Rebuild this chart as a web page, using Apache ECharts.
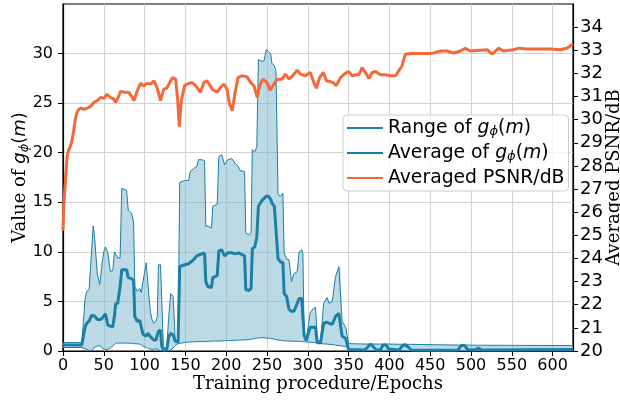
<!DOCTYPE html>
<html>
<head>
<meta charset="utf-8">
<script src="https://cdn.jsdelivr.net/npm/echarts@6/dist/echarts.min.js"></script>
<style>
  html, body { margin: 0; padding: 0; background: #fff; }
  #chart { width: 620px; height: 402px; }
</style>
</head>
<body>
<div id="chart"></div>
<script>
// g_phi(m) statistics, sampled at the same epochs
const gEpoch = [
  0, 23, 25, 27, 29, 32, 35, 37, 39, 42,
  45, 48, 50, 52, 55, 58, 61, 63, 64.5, 67,
  70, 72, 78, 80, 84, 86.5, 88, 91, 94, 96,
  98, 100, 102, 104, 107, 109, 111, 114, 115.5, 117,
  119.5, 121, 123, 127, 129.5, 132, 135, 137.5, 141, 143,
  149, 154, 156, 160, 164, 166, 170, 173.5, 175, 177.5,
  182, 183.5, 189, 191, 194.5, 198, 202, 207, 211, 215,
  217, 222.5, 224, 228, 230.5, 232, 235, 237.5, 239.5, 244,
  246.5, 249, 252, 254.5, 256, 259, 261, 263.5, 266.5, 269.5,
  271, 274, 277, 280, 283, 287, 289.5, 292.5, 294, 295.5,
  298, 300, 303, 307, 309.5, 311.5, 315.5, 319.5, 323.5, 326,
  330, 334, 338, 340, 342, 344, 346.5, 350, 352, 370,
  374, 377, 380, 384, 389, 392, 396, 399, 412, 415,
  419, 423, 427, 460, 484, 488, 492, 496, 505, 509,
  513, 625
];
const gMax = [
  0.85, 0.85, 3.0, 5.2, 6.0, 6.2, 10.0, 12.6, 11.2, 7.8,
  6.7, 8.9, 10.0, 10.5, 9.9, 8.0, 8.1, 10.0, 9.8, 9.4,
  9.4, 16.4, 16.2, 14.2, 13.9, 13.0, 6.5, 6.0, 6.3, 5.9,
  7.0, 7.9, 8.9, 6.8, 4.0, 3.2, 2.8, 3.0, 3.5, 8.7,
  8.7, 5.2, 0.5, 0.1, 3.4, 5.8, 5.5, 1.2, 0.95, 17.0,
  17.2, 17.2, 18.1, 18.4, 18.6, 19.3, 19.3, 19.2, 12.6, 12.6,
  12.4, 14.6, 14.8, 19.6, 19.8, 18.8, 19.3, 19.4, 18.9, 18.6,
  18.2, 18.1, 11.9, 11.7, 11.9, 20.3, 20.1, 20.6, 29.4, 29.2,
  29.3, 30.4, 30.2, 30.0, 29.0, 28.8, 28.2, 15.8, 15.6, 15.9,
  9.9, 9.3, 9.2, 7.0, 7.8, 8.0, 10.0, 10.2, 9.8, 1.6,
  1.1, 1.1, 3.9, 4.3, 4.4, 1.1, 0.95, 4.8, 5.4, 4.8,
  5.0, 7.5, 8.5, 8.6, 3.0, 2.8, 2.4, 0.75, 0.72, 0.7,
  0.7, 0.7, 0.7, 0.7, 0.7, 0.7, 0.7, 0.7, 0.68, 0.68,
  0.68, 0.67, 0.67, 0.63, 0.6, 0.6, 0.6, 0.6, 0.58, 0.58,
  0.58, 0.55
];
const gAvg = [
  0.6, 0.6, 1.5, 2.4, 2.8, 3.0, 3.6, 3.8, 3.5, 3.2,
  3.15, 3.3, 3.5, 3.75, 2.6, 2.5, 2.45, 3.5, 4.75, 4.8,
  6.5, 8.2, 8.2, 7.4, 7.3, 7.1, 3.5, 3.0, 3.1, 2.9,
  1.7, 1.5, 1.5, 1.8, 1.45, 1.3, 1.1, 1.1, 1.6, 2.0,
  2.1, 0.5, 0.1, 0.1, 1.4, 1.8, 1.6, 1.0, 0.9, 8.5,
  8.7, 8.8, 8.9, 9.2, 9.6, 9.7, 9.8, 9.85, 7.0, 6.5,
  6.4, 7.4, 7.6, 10.1, 10.2, 9.6, 9.9, 9.9, 9.8, 9.9,
  9.8, 9.6, 6.2, 6.1, 6.3, 10.3, 10.5, 11.5, 14.6, 15.2,
  15.4, 15.6, 15.6, 15.3, 14.9, 14.6, 14.6, 9.3, 9.0, 8.9,
  5.8, 5.5, 4.2, 4.0, 4.0, 4.8, 5.3, 5.3, 5.1, 1.6,
  1.05, 1.05, 2.4, 2.4, 2.4, 0.85, 0.8, 2.8, 2.9, 2.8,
  2.7, 3.5, 3.8, 3.8, 1.5, 1.4, 1.25, 0.15, 0.1, 0.1,
  0.45, 0.7, 0.45, 0.1, 0.1, 0.6, 0.6, 0.2, 0.1, 0.45,
  0.65, 0.4, 0.1, 0.08, 0.1, 0.55, 0.55, 0.15, 0.1, 0.3,
  0.1, 0.15
];
const gMin = [
  0.35, 0.35, 0.3, 0.25, 0.2, 0.05, 0.0, 0.2, 0.4, 0.5,
  0.55, 0.3, 0.1, 0.1, 0.2, 0.3, 0.5, 0.7, 0.78, 0.8,
  0.8, 0.8, 0.8, 0.8, 0.78, 0.75, 0.75, 0.72, 0.7, 0.68,
  0.5, 0.3, 0.35, 0.43, 0.2, 0.1, 0.15, 0.25, 0.2, 0.1,
  0.0, 0.0, 0.0, 0.0, 0.0, 0.1, 0.3, 0.55, 0.75, 0.8,
  0.85, 0.9, 0.9, 0.92, 0.94, 0.94, 0.95, 0.95, 0.95, 0.97,
  1.0, 1.0, 1.0, 1.0, 1.02, 1.03, 1.05, 1.06, 1.08, 1.1,
  1.1, 1.12, 1.12, 1.15, 1.2, 1.2, 1.25, 1.3, 1.35, 1.35,
  1.35, 1.3, 1.3, 1.25, 1.22, 1.2, 1.15, 1.1, 1.1, 1.05,
  1.05, 1.0, 1.0, 1.0, 0.98, 0.97, 0.96, 0.95, 0.95, 0.93,
  0.92, 0.9, 0.88, 0.85, 0.83, 0.8, 0.76, 0.72, 0.7, 0.68,
  0.65, 0.6, 0.55, 0.52, 0.5, 0.48, 0.46, 0.1, 0.0, 0.0,
  0, 0, 0, 0, 0, 0, 0, 0, 0, 0,
  0, 0, 0, 0, 0, 0, 0, 0, 0, 0,
  0, 0
];

// averaged PSNR (dB)
const psnrEpoch = [
  0, 1, 3, 5, 7, 9, 11, 13, 15, 17,
  19.5, 22, 25, 28, 31, 34, 38, 42, 46, 50,
  54, 58, 62, 64.5, 68.5, 70.5, 76.5, 80.5, 85, 87,
  91, 95, 99, 103, 107, 111.5, 115.5, 119.5, 123.5, 127,
  130, 134, 138, 140.5, 142.5, 145, 149, 154, 158.5, 162.5,
  168.5, 172.5, 176.5, 183, 189, 193, 197, 201, 204, 207.5,
  210.5, 214.5, 219.5, 225.5, 230, 234, 238, 241, 245, 250,
  254, 258.5, 262.5, 268.5, 272.5, 277, 281.5, 287, 291, 297,
  303, 307.5, 310.5, 314.5, 319, 323, 327, 331, 335, 340,
  346, 350, 354.5, 358.5, 362.5, 366.5, 370.5, 375, 379, 383,
  389, 395, 401, 407.5, 411.5, 415.5, 419.5, 426, 434, 442,
  450, 454, 462.5, 470.5, 478.5, 487, 493, 499, 511.5, 520,
  526, 534, 540, 552, 558.5, 569, 577, 585, 597, 609.5,
  618, 622, 625
];
const psnrVal = [
  25.2, 26.3, 27.4, 28.4, 28.7, 28.85, 29.1, 29.5, 30.0, 30.3,
  30.45, 30.5, 30.45, 30.48, 30.52, 30.58, 30.75, 30.82, 30.96, 30.92,
  31.1, 30.96, 30.9, 30.75, 31.03, 31.22, 31.18, 31.18, 30.96, 30.82,
  31.25, 31.57, 31.47, 31.57, 31.54, 31.68, 31.36, 30.82, 31.32, 31.36,
  31.54, 31.82, 31.75, 30.9, 29.7, 30.82, 31.47, 31.57, 31.6, 31.47,
  31.18, 31.6, 31.68, 31.32, 31.18, 31.39, 31.54, 31.32, 30.68, 30.39,
  31.1, 31.82, 31.9, 31.85, 31.6, 31.47, 30.96, 31.47, 31.75, 31.6,
  31.27, 31.54, 31.75, 31.75, 31.97, 31.75, 31.9, 32.14, 31.97, 31.9,
  32.04, 31.6, 31.36, 31.82, 32.04, 31.68, 31.65, 31.6, 31.47, 31.82,
  32.0, 32.08, 31.9, 31.94, 31.94, 32.25, 32.04, 31.78, 32.04, 32.08,
  31.94, 31.94, 31.9, 31.9, 32.11, 32.33, 32.83, 32.86, 32.86, 32.86,
  32.86, 32.88, 32.97, 32.97, 32.88, 32.97, 33.09, 32.97, 33.0, 33.02,
  32.83, 33.09, 32.97, 33.02, 33.09, 33.05, 33.05, 33.05, 33.05, 33.02,
  33.1, 33.2, 33.25
];

const leftTicks = [0, 5, 10, 15, 20, 25, 30];
const rightTicks = [20, 21, 22, 23, 24, 25, 26, 27, 28, 29, 30, 31, 32, 33, 34];

const BLUE = "#1c7fa6";
const ORANGE = "#f4683a";
const FILL = "rgba(120,182,206,0.5)";
const SANS = "DejaVu Sans";
const SERIF = "DejaVu Serif";

const pairs = (xs, ys) => xs.map((x, i) => [x, ys[i]]);

const mathRich = (size) => ({
    s: {fontFamily: SERIF, fontSize: size, color: "#000"},
    t: {fontFamily: SANS, fontSize: size, color: "#000"},
    m: {fontFamily: SANS, fontStyle: "italic", fontSize: size, color: "#000"},
    sub: {fontFamily: SANS, fontStyle: "italic", fontSize: Math.round(size * 0.7), color: "#000", verticalAlign: "bottom"}
});

const legendText = {
    "range": "{t|Range of }{m|g}{sub|ϕ}{t|(}{m|m}{t|)}",
    "avg": "{t|Average of }{m|g}{sub|ϕ}{t|(}{m|m}{t|)}",
    "psnr": "{t|Averaged PSNR/dB}"
};

// shaded band between min and max, drawn once through the axis scales
const renderBand = (params, api) => {
    if (params.dataIndex !== 0) return null;
    const upper = gEpoch.map((x, i) => api.coord([x, gMax[i]]));
    const lower = gEpoch.map((x, i) => api.coord([x, gMin[i]])).reverse();
    return {
        type: "polygon",
        shape: {points: upper.concat(lower)},
        style: {fill: FILL, stroke: null},
        clipPath: {type: "rect", shape: params.coordSys}
    };
};

const chart = echarts.init(document.getElementById("chart"), null, {renderer: "canvas"});

chart.setOption({
    animation: false,
    backgroundColor: "#fff",
    grid: {
        left: 63, right: 47, top: 4, bottom: 51,
        outerBoundsMode: "none",
        containLabel: false,
        show: true, borderColor: "#000", borderWidth: 1.2, backgroundColor: "transparent"
    },
    legend: {
        data: ["range", "avg", "psnr"],
        orient: "vertical",
        left: 343,
        top: 115,
        itemWidth: 36,
        itemHeight: 14,
        itemGap: 5,
        padding: [3, 4, 3, 3],
        backgroundColor: "rgba(255,255,255,0.8)",
        borderColor: "#cccccc",
        borderWidth: 1,
        borderRadius: 4,
        itemStyle: {opacity: 0},
        formatter: (name) => legendText[name],
        textStyle: {
            fontFamily: SANS, fontSize: 18.8, color: "#000", lineHeight: 20,
            rich: mathRich(18.8)
        }
    },
    xAxis: {
        type: "value",
        min: 0,
        max: 625,
        interval: 50,
        name: "Training procedure/Epochs",
        nameLocation: "middle",
        nameGap: 24,
        nameMoveOverlap: false,
        nameTextStyle: {fontFamily: SERIF, fontSize: 18, color: "#000"},
        axisLine: {show: true, lineStyle: {color: "#000", width: 1.2}},
        axisTick: {show: true, length: 5, lineStyle: {color: "#000"}},
        axisLabel: {fontFamily: SANS, fontSize: 16, color: "#000", margin: 7},
        splitLine: {show: true, lineStyle: {color: "#d3d3d3", width: 1}}
    },
    yAxis: [
        {
            type: "value",
            min: 0,
            max: 35,
            interval: 5,
            name: "{s|Value of }{m|g}{sub|ϕ}{t|(}{m|m}{t|)}",
            nameLocation: "middle",
            nameRotate: 90,
            nameGap: 32,
            nameMoveOverlap: false,
            nameTextStyle: {fontFamily: SERIF, fontSize: 18, color: "#000", lineHeight: 22, rich: mathRich(18)},
            axisLine: {show: true, lineStyle: {color: "#000", width: 1.2}},
            axisTick: {show: true, length: 5, lineStyle: {color: "#000"}, customValues: leftTicks},
            axisLabel: {fontFamily: SANS, fontSize: 16, color: "#000", margin: 10, customValues: leftTicks},
            splitLine: {show: true, lineStyle: {color: "#d3d3d3", width: 1}}
        },
        {
            type: "value",
            min: 20,
            max: 35,
            interval: 1,
            position: "right",
            name: "Averaged PSNR/dB",
            nameLocation: "middle",
            nameRotate: 90,
            nameGap: 32,
            nameMoveOverlap: false,
            nameTextStyle: {fontFamily: SERIF, fontSize: 18, color: "#000"},
            axisLine: {show: true, lineStyle: {color: "#000", width: 1.2}},
            axisTick: {show: true, length: 5, lineStyle: {color: "#000"}, customValues: rightTicks},
            axisLabel: {fontFamily: SANS, fontSize: 18, color: "#000", margin: 7, customValues: rightTicks},
            splitLine: {show: false}
        }
    ],
    series: [
        {
            name: "band",
            type: "custom",
            renderItem: renderBand,
            data: pairs(gEpoch, gMax),
            z: 1
        },
        {
            name: "gmin",
            type: "line",
            data: pairs(gEpoch, gMin),
            symbol: "none",
            lineStyle: {color: BLUE, width: 1},
            itemStyle: {color: BLUE},
            z: 2
        },
        {
            name: "range",
            type: "line",
            data: pairs(gEpoch, gMax),
            symbol: "none",
            lineStyle: {color: BLUE, width: 1},
            itemStyle: {color: BLUE},
            z: 2
        },
        {
            name: "avg",
            type: "line",
            data: pairs(gEpoch, gAvg),
            symbol: "none",
            lineStyle: {color: BLUE, width: 3},
            itemStyle: {color: BLUE},
            z: 3
        },
        {
            name: "psnr",
            type: "line",
            yAxisIndex: 1,
            data: pairs(psnrEpoch, psnrVal),
            symbol: "none",
            lineStyle: {color: ORANGE, width: 3},
            itemStyle: {color: ORANGE},
            z: 4
        }
    ]
});
</script>
</body>
</html>
